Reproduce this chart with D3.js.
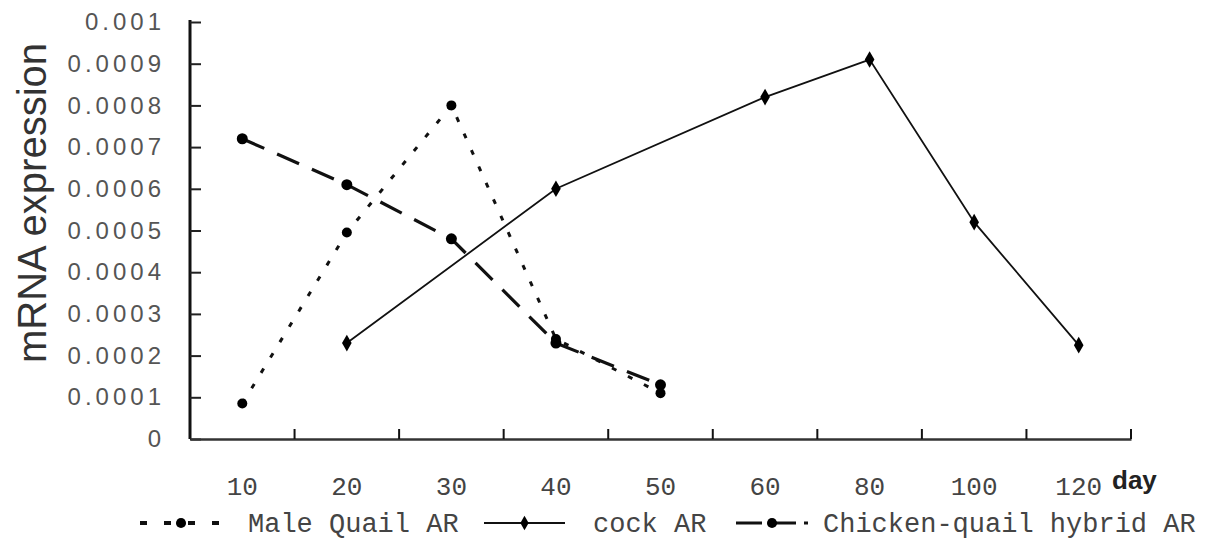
<!DOCTYPE html>
<meta charset="utf-8">
<script src="https://d3js.org/d3.v7.min.js"></script>
<style>
  body { margin: 0; background: #fff; }
</style>
<svg id="chart" width="1207" height="540"></svg>
<script>
  // categories (day) and series values
  const days = ["10", "20", "30", "40", "50", "60", "80", "100", "120"];
  const maleQuail = [0.000085, 0.000495, 0.0008, 0.00024, 0.00011, null, null, null, null];
  const cock = [null, 0.00023, null, 0.0006, null, 0.00082, 0.00091, 0.00052, 0.000225];
  const hybrid = [0.00072, 0.00061, 0.00048, 0.00023, 0.00013, null, null, null, null];
  const yTicks = [0, 0.0001, 0.0002, 0.0003, 0.0004, 0.0005, 0.0006, 0.0007, 0.0008, 0.0009, 0.001];
  const seriesNames = ["Male Quail AR", "cock AR", "Chicken-quail hybrid AR"];

  const svg = d3.select("#chart");
  const plotLeft = 190, plotRight = 1131, plotTop = 22, plotBottom = 439;

  const x = d3.scaleBand().domain(days).range([plotLeft, plotRight]).padding(0);
  const y = d3.scaleLinear().domain([0, 0.001]).range([plotBottom, plotTop]);

  const monoFont = "'Liberation Mono', 'DejaVu Sans Mono', monospace";

  // y axis, ticks pointing inside
  const yAxis = svg.append("g")
    .attr("transform", `translate(${plotLeft},0)`)
    .call(d3.axisLeft(y).tickValues(yTicks).tickSizeInner(-11).tickSizeOuter(0).tickPadding(25)
      .tickFormat(d => d === 0 ? "0" : d3.format(".4~f")(d)));
  yAxis.select(".domain").attr("stroke", "#111").attr("stroke-width", 3)
    .attr("d", `M0,${plotBottom}V${plotTop - 2}`);
  yAxis.selectAll(".tick line").attr("stroke", "#222").attr("stroke-width", 2);
  yAxis.selectAll(".tick text")
    .attr("font-family", "Arial, 'Liberation Sans', sans-serif")
    .attr("font-size", 24)
    .attr("letter-spacing", 4)
    .attr("fill", "#555");

  // x axis, labels at band centres, ticks at band edges
  const xAxis = svg.append("g")
    .attr("transform", `translate(0,${plotBottom})`)
    .call(d3.axisBottom(x).tickSize(0).tickPadding(38));
  xAxis.select(".domain").attr("stroke", "#333").attr("stroke-width", 2.5);
  xAxis.selectAll(".tick text")
    .attr("font-family", monoFont)
    .attr("font-size", 26)
    .attr("fill", "#444");

  const edges = days.slice(1).map(d => x(d)).concat([plotRight]);
  svg.append("g").selectAll("line")
    .data(edges)
    .join("line")
    .attr("x1", d => d).attr("x2", d => d)
    .attr("y1", plotBottom).attr("y2", plotBottom - 10)
    .attr("stroke", "#111").attr("stroke-width", 2);

  svg.append("text")
    .attr("x", 1112).attr("y", 489)
    .attr("font-family", "Arial, 'Liberation Sans', sans-serif")
    .attr("font-weight", "bold")
    .attr("font-size", 26)
    .attr("fill", "#222")
    .text("day");

  // y label
  svg.append("text")
    .attr("transform", "translate(46,203) rotate(-90)")
    .attr("text-anchor", "middle")
    .attr("font-family", "Arial, 'Liberation Sans', sans-serif")
    .attr("font-size", 40)
    .attr("fill", "#333")
    .text("mRNA expression");

  const series = [
    { name: seriesNames[0], values: maleQuail, dash: "5,13", width: 3, r: 5, shape: "circle" },
    { name: seriesNames[1], values: cock, dash: null, width: 1.8, r: 4.5, shape: "diamond" },
    { name: seriesNames[2], values: hybrid, dash: "24,14", width: 3.2, r: 5.5, shape: "circle" }
  ];

  const line = d3.line()
    .x(d => x(d.day) + x.bandwidth() / 2)
    .y(d => y(d.v));

  series.forEach(s => {
    const pts = days.map((d, i) => ({ day: d, v: s.values[i] })).filter(p => p.v !== null);
    svg.append("path")
      .datum(pts)
      .attr("d", line)
      .attr("fill", "none")
      .attr("stroke", "#111")
      .attr("stroke-width", s.width)
      .attr("stroke-dasharray", s.dash);
    svg.append("g").selectAll("path")
      .data(pts)
      .join("path")
      .attr("transform", p => `translate(${x(p.day) + x.bandwidth() / 2},${y(p.v)})`)
      .attr("d", d3.symbol().type(s.shape === "diamond" ? d3.symbolDiamond : d3.symbolCircle)
        .size(s.shape === "diamond" ? 80 : Math.PI * s.r * s.r))
      .attr("fill", "#000");
  });

  // legend
  const legendY = 523;
  const legendItems = [
    { s: series[0], x0: 140, x1: 222, tx: 248 },
    { s: series[1], x0: 484, x1: 565, tx: 593 },
    { s: series[2], x0: 736, x1: 808, tx: 823 }
  ];
  const lg = svg.append("g");
  legendItems.forEach(it => {
    lg.append("line")
      .attr("x1", it.x0).attr("x2", it.x1)
      .attr("y1", legendY).attr("y2", legendY)
      .attr("stroke", "#111")
      .attr("stroke-width", it.s.dash === "5,13" ? 4 : it.s.width)
      .attr("stroke-dasharray", it.s.dash === "5,13" ? "7,17" : it.s.dash === null ? null : "26,8");
    lg.append("path")
      .attr("transform", `translate(${(it.x0 + it.x1) / 2},${legendY})`)
      .attr("d", d3.symbol().type(it.s.shape === "diamond" ? d3.symbolDiamond : d3.symbolCircle)
        .size(it.s.shape === "diamond" ? 60 : 80))
      .attr("fill", "#000");
    lg.append("text")
      .attr("x", it.tx).attr("y", legendY + 9)
      .attr("font-family", monoFont)
      .attr("font-size", 27)
      .attr("fill", "#444")
      .text(it.s.name);
  });
</script>
